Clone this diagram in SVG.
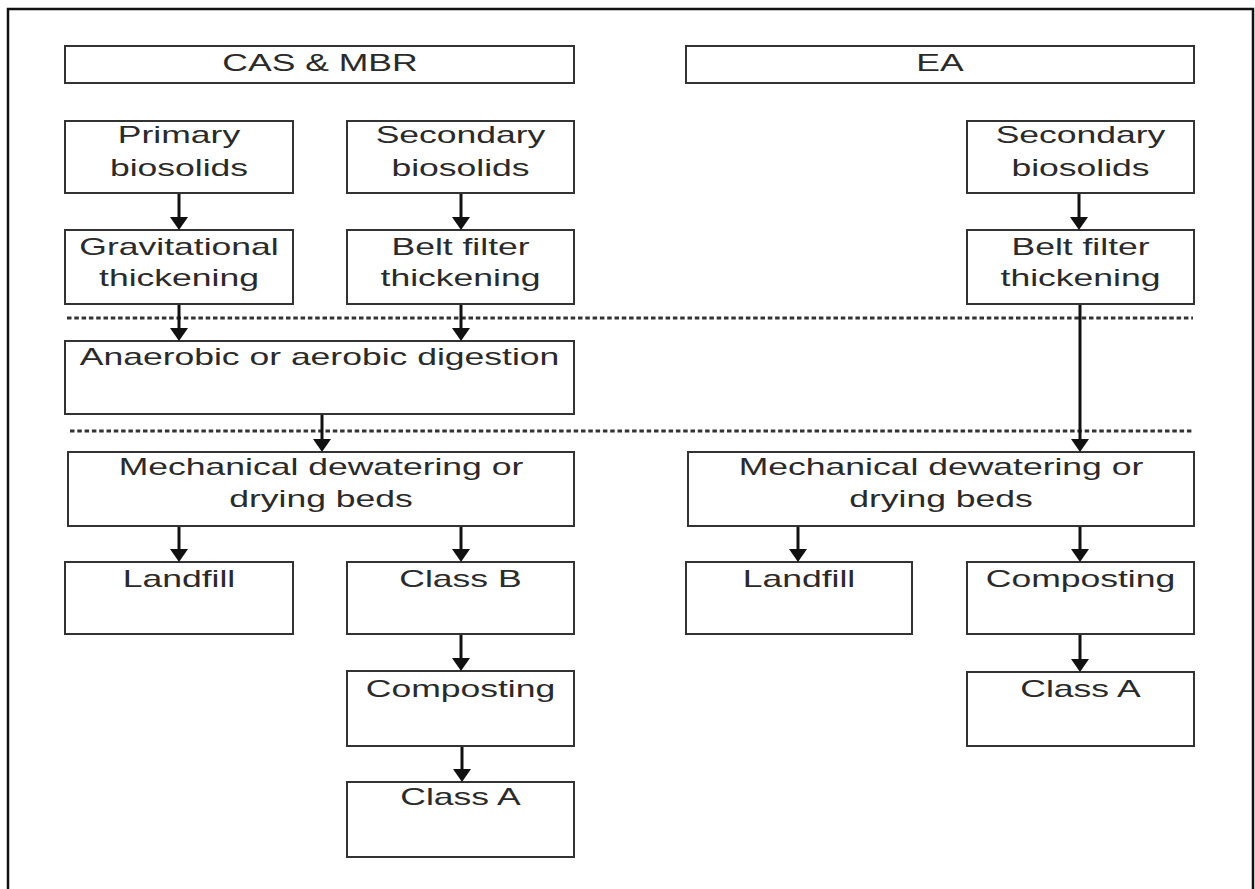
<svg xmlns="http://www.w3.org/2000/svg" width="1255" height="889" viewBox="0 0 1255 889">
<style>
.box{fill:#fff;stroke:#333;stroke-width:2}
.t{font-family:"Liberation Sans",Arial,sans-serif;font-size:24px;fill:#2a2a2a;text-anchor:middle}
.arr{stroke:#111;stroke-width:3;fill:none;marker-end:url(#ah)}
.dot{stroke:#333;stroke-width:3;stroke-dasharray:4.5 2.8;fill:none}
</style>
<defs>
<marker id="ah" markerUnits="userSpaceOnUse" viewBox="0 0 13 18" markerWidth="13" markerHeight="18" refX="5" refY="9" orient="auto">
<path d="M0,0 L13,9 L0,18 z" fill="#111"/>
</marker>
</defs>
<rect x="0" y="0" width="1255" height="889" fill="#fff"/>
<path d="M8,889 V9 H1253 V889" fill="none" stroke="#111" stroke-width="2.5"/>
<g id="separators">
<line class="dot" x1="67" y1="318" x2="1193" y2="318"/>
<line class="dot" x1="70" y1="431" x2="1193" y2="431"/>
</g>
<g id="cas-mbr"><rect class="box" x="65" y="46" width="509" height="37"/><text class="t" transform="translate(320,71) scale(1.48,1)">CAS &amp; MBR</text></g>
<g id="ea"><rect class="box" x="686" y="46" width="508" height="37"/><text class="t" transform="translate(940,71) scale(1.48,1)">EA</text></g>
<g id="primary"><rect class="box" x="65" y="121" width="228" height="72"/><text class="t" transform="translate(179,143) scale(1.48,1)">Primary</text><text class="t" transform="translate(179,176) scale(1.48,1)">biosolids</text></g>
<g id="secondary1"><rect class="box" x="347" y="121" width="227" height="72"/><text class="t" transform="translate(460.5,143) scale(1.48,1)">Secondary</text><text class="t" transform="translate(460.5,176) scale(1.48,1)">biosolids</text></g>
<g id="secondary2"><rect class="box" x="967" y="121" width="227" height="72"/><text class="t" transform="translate(1080.5,143) scale(1.48,1)">Secondary</text><text class="t" transform="translate(1080.5,176) scale(1.48,1)">biosolids</text></g>
<g id="gravitational"><rect class="box" x="65" y="230" width="228" height="74"/><text class="t" transform="translate(179,255) scale(1.48,1)">Gravitational</text><text class="t" transform="translate(179,286) scale(1.48,1)">thickening</text></g>
<g id="belt1"><rect class="box" x="347" y="230" width="227" height="74"/><text class="t" transform="translate(460.5,255) scale(1.48,1)">Belt filter</text><text class="t" transform="translate(460.5,286) scale(1.48,1)">thickening</text></g>
<g id="belt2"><rect class="box" x="967" y="230" width="227" height="74"/><text class="t" transform="translate(1080.5,255) scale(1.48,1)">Belt filter</text><text class="t" transform="translate(1080.5,286) scale(1.48,1)">thickening</text></g>
<g id="digestion"><rect class="box" x="65" y="341" width="509" height="73"/><text class="t" transform="translate(319.5,365) scale(1.48,1)">Anaerobic or aerobic digestion</text></g>
<g id="dewatering1"><rect class="box" x="68" y="452" width="506" height="74"/><text class="t" transform="translate(321,475) scale(1.48,1)">Mechanical dewatering or</text><text class="t" transform="translate(321,507) scale(1.48,1)">drying beds</text></g>
<g id="dewatering2"><rect class="box" x="688" y="452" width="506" height="74"/><text class="t" transform="translate(941,475) scale(1.48,1)">Mechanical dewatering or</text><text class="t" transform="translate(941,507) scale(1.48,1)">drying beds</text></g>
<g id="landfill1"><rect class="box" x="65" y="562" width="228" height="72"/><text class="t" transform="translate(179,587) scale(1.48,1)">Landfill</text></g>
<g id="classB"><rect class="box" x="347" y="562" width="227" height="72"/><text class="t" transform="translate(460.5,587) scale(1.48,1)">Class B</text></g>
<g id="landfill2"><rect class="box" x="686" y="562" width="226" height="72"/><text class="t" transform="translate(799,587) scale(1.48,1)">Landfill</text></g>
<g id="composting2"><rect class="box" x="967" y="562" width="227" height="72"/><text class="t" transform="translate(1080.5,587) scale(1.48,1)">Composting</text></g>
<g id="composting1"><rect class="box" x="347" y="671" width="227" height="75"/><text class="t" transform="translate(460.5,697) scale(1.48,1)">Composting</text></g>
<g id="classA1"><rect class="box" x="347" y="782" width="227" height="75"/><text class="t" transform="translate(460.5,805) scale(1.48,1)">Class A</text></g>
<g id="classA2"><rect class="box" x="967" y="672" width="227" height="74"/><text class="t" transform="translate(1080.5,697) scale(1.48,1)">Class A</text></g>
<g id="connectors">
<line class="arr" x1="179" y1="194" x2="179" y2="222"/>
<line class="arr" x1="461" y1="194" x2="461" y2="222"/>
<line class="arr" x1="1079" y1="194" x2="1079" y2="222"/>
<line class="arr" x1="179" y1="305" x2="179" y2="333"/>
<line class="arr" x1="461" y1="305" x2="461" y2="333"/>
<line class="arr" x1="1080" y1="305" x2="1080" y2="444"/>
<line class="arr" x1="322" y1="415" x2="322" y2="444"/>
<line class="arr" x1="179" y1="527" x2="179" y2="554"/>
<line class="arr" x1="461" y1="527" x2="461" y2="554"/>
<line class="arr" x1="798" y1="527" x2="798" y2="554"/>
<line class="arr" x1="1080" y1="527" x2="1080" y2="554"/>
<line class="arr" x1="461" y1="635" x2="461" y2="663"/>
<line class="arr" x1="462" y1="747" x2="462" y2="774"/>
<line class="arr" x1="1080" y1="635" x2="1080" y2="664"/>
</g>
</svg>
